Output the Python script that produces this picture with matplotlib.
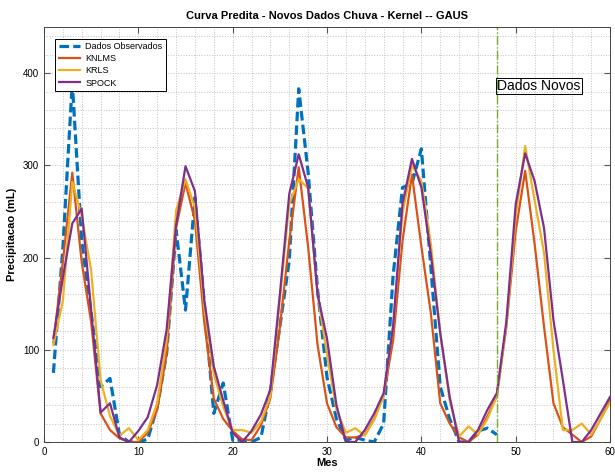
import matplotlib
matplotlib.use("Agg")
import matplotlib.pyplot as plt
from matplotlib.ticker import MultipleLocator

plt.rcParams['font.family'] = ['Liberation Sans', 'DejaVu Sans']

# dados
meses_obs = list(range(1, 49))
observados = [75, 210, 390, 218, 140, 60, 69, 8, 0, 0, 3, 38, 96, 230, 143, 265, 150, 31, 64, 2,
              2, 0, 5, 56, 125, 197, 383, 292, 165, 70, 25, 2, 5, 2, 0, 20, 180, 276, 280, 318,
              190, 60, 25, 0, 0, 12, 15, 8]

meses = list(range(1, 61))
knlms = [108, 195, 292, 195, 130, 31, 13, 4, 0, 0, 10, 35, 96, 232, 281, 240, 129, 47, 25, 12,
         3, 2, 18, 48, 124, 218, 298, 211, 105, 42, 16, 5, 5, 8, 25, 50, 110, 218, 290, 212,
         140, 42, 20, 5, 0, 8, 28, 50, 125, 229, 294, 215, 125, 42, 16, 8, 0, 6, 25, 45]
krls = [105, 153, 282, 245, 186, 67, 28, 7, 15, 2, 13, 42, 110, 251, 285, 254, 145, 74, 38, 13,
        13, 10, 22, 50, 155, 258, 285, 275, 160, 95, 35, 10, 15, 7, 24, 50, 125, 248, 300, 283,
        215, 118, 45, 6, 17, 8, 25, 50, 125, 245, 321, 262, 205, 100, 13, 13, 20, 8, 25, 43]
spock = [113, 178, 237, 253, 143, 32, 42, 5, 0, 12, 27, 62, 122, 235, 299, 272, 153, 82, 45, 10,
         0, 12, 30, 57, 160, 269, 312, 276, 160, 112, 40, 0, 0, 13, 31, 53, 125, 258, 307, 276,
         204, 118, 49, 0, 0, 13, 35, 53, 130, 258, 313, 283, 232, 132, 67, 0, 0, 13, 31, 49]

inicio_novos = 48

fig = plt.figure(figsize=(6.15, 4.73), dpi=100)
ax = fig.add_axes([0.0715, 0.0655, 0.9205, 0.8775])

ax.plot(meses_obs, observados, '--', color='#0072BD', linewidth=2.3, dashes=(3, 1.3),
        label='Dados Observados')
ax.plot(meses, knlms, '-', color='#D95319', linewidth=1.6, label='KNLMS')
ax.plot(meses, krls, '-', color='#EDB120', linewidth=1.6, label='KRLS')
ax.plot(meses, spock, '-', color='#7E2F8E', linewidth=1.6, label='SPOCK')
ax.axvline(inicio_novos, color='#77AC30', linestyle='-.', linewidth=1.0)
ax.text(inicio_novos + 0.05, 386, 'Dados Novos', fontsize=10, va='center', ha='left',
        bbox=dict(facecolor='none', edgecolor='black', linewidth=0.7, pad=0.6))

ax.set_xlim(0, 60)
ax.set_ylim(0, 450)
ax.xaxis.set_major_locator(MultipleLocator(10))
ax.yaxis.set_major_locator(MultipleLocator(100))
ax.xaxis.set_minor_locator(MultipleLocator(2))
ax.yaxis.set_minor_locator(MultipleLocator(20))
ax.grid(True, which='both', linestyle=':', color='#c4c4c4', linewidth=0.7)
ax.set_axisbelow(True)
ax.tick_params(which='major', direction='in', top=True, right=True, length=4,
               labelsize=7, color='#555555')
ax.tick_params(which='minor', length=0)
for s in ax.spines.values():
    s.set_color('#444444')
    s.set_linewidth(0.7)

ax.set_title('Curva Predita - Novos Dados Chuva - Kernel -- GAUS', fontsize=8, fontweight='bold', pad=6)
ax.set_xlabel('Mes', fontsize=8, fontweight='bold', labelpad=1)
ax.set_ylabel('Precipitacao (mL)', fontsize=8, fontweight='bold', labelpad=4)

leg = ax.legend(loc='upper left', fontsize=6.5, fancybox=False, framealpha=1,
                edgecolor='black', handlelength=2.3, borderpad=0.4, labelspacing=0.35,
                handletextpad=0.6, bbox_to_anchor=(0.012, 0.983))
leg.get_frame().set_linewidth(0.7)

fig.savefig('out.png', dpi=100)
